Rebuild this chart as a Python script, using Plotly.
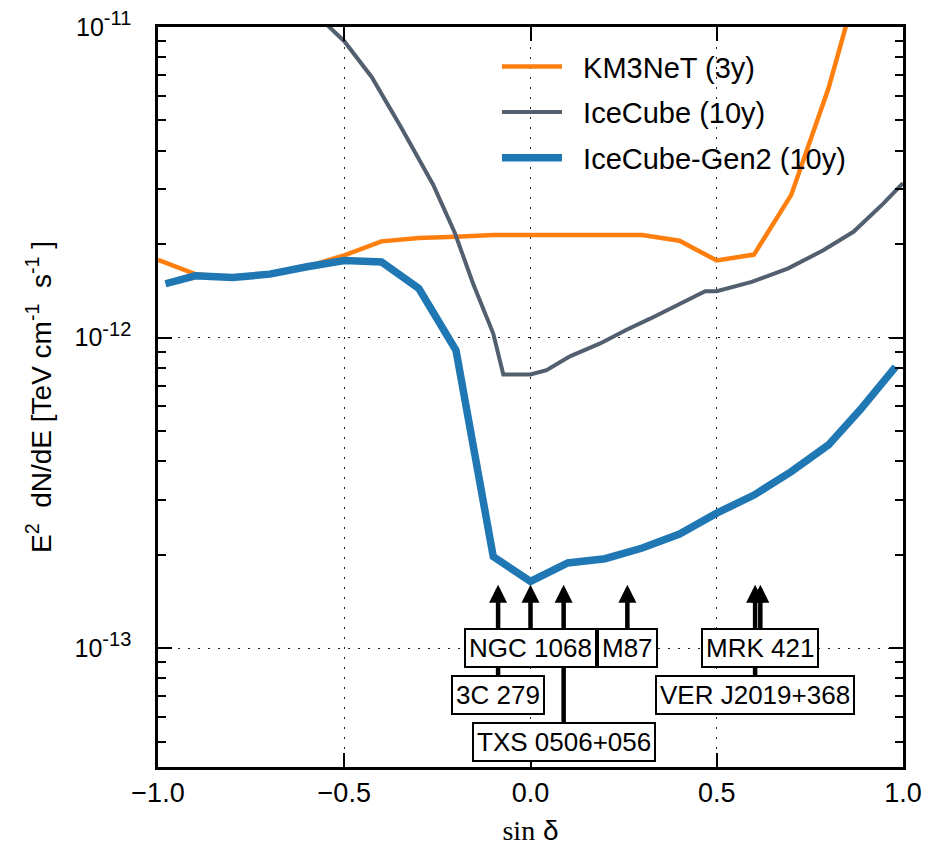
import numpy as np
import plotly.graph_objects as go

# ---------------- data ----------------
km3_x = [-1.0, -0.9, -0.8, -0.7, -0.6, -0.5, -0.4, -0.3, -0.2, -0.1, 0.0, 0.1, 0.2, 0.3, 0.4, 0.5, 0.6, 0.7, 0.8, 0.9]
km3_y = [1.78e-12, 1.60e-12, 1.56e-12, 1.60e-12, 1.69e-12, 1.84e-12, 2.04e-12, 2.09e-12, 2.11e-12, 2.14e-12,
         2.14e-12, 2.14e-12, 2.14e-12, 2.14e-12, 2.05e-12, 1.77e-12, 1.85e-12, 2.88e-12, 6.35e-12, 1.7e-11]

ic_x = [-0.6, -0.5, -0.426, -0.346, -0.261, -0.203, -0.154, -0.1, -0.073, 0.0, 0.043, 0.106, 0.187, 0.258,
        0.321, 0.393, 0.469, 0.5, 0.594, 0.692, 0.786, 0.867, 0.947, 1.0]
ic_y = [1.17e-11, 9.0e-12, 6.89e-12, 4.72e-12, 3.10e-12, 2.17e-12, 1.49e-12, 1.03e-12, 7.6e-13, 7.6e-13,
        7.85e-13, 8.7e-13, 9.57e-13, 1.06e-12, 1.15e-12, 1.27e-12, 1.41e-12, 1.41e-12, 1.51e-12, 1.67e-12,
        1.91e-12, 2.19e-12, 2.70e-12, 3.14e-12]

g2_x = [-0.98, -0.9, -0.8, -0.7, -0.6, -0.5, -0.4, -0.3, -0.2, -0.1, 0.0, 0.1, 0.2, 0.3, 0.4, 0.5, 0.6,
        0.7, 0.8, 0.885, 0.98]
g2_y = [1.49e-12, 1.58e-12, 1.56e-12, 1.60e-12, 1.69e-12, 1.77e-12, 1.75e-12, 1.44e-12, 9.1e-13, 1.97e-13,
        1.64e-13, 1.88e-13, 1.94e-13, 2.10e-13, 2.33e-13, 2.72e-13, 3.11e-13, 3.70e-13, 4.51e-13, 5.85e-13,
        8.05e-13]

series_names = ["KM3NeT (3y)", "IceCube (10y)", "IceCube-Gen2 (10y)"]

# sources (drawn in this order: later boxes cover earlier arrows)
src_names = ["3C 279", "TXS 0506+056", "VER J2019+368", "NGC 1068", "M87", "MRK 421"]
src_sindec = [-0.087, 0.089, 0.603, 0.0, 0.26, 0.617]
src_label_y = [7.08e-14, 4.97e-14, 7.08e-14, 1.0e-13, 1.0e-13, 1.0e-13]
arrow_tip_y = 1.6e-13

x_ticks = [-1.0, -0.5, 0.0, 0.5, 1.0]
y_ticks = [1e-13, 1e-12, 1e-11]
y_exponents = ["-13", "-12", "-11"]
y_minor = [m * 10.0 ** e for e in (-14, -13, -12) for m in range(2, 10)]

# ---------------- figure ----------------
SANS = "Liberation Sans, Arial, Helvetica, sans-serif"
PAD = "\u00a0\u00a0"
y_ticktext = ['10<sup><span style="font-size:20px">%s</span></sup>' % e for e in y_exponents]

fig = go.Figure()
fig.add_trace(go.Scatter(x=km3_x, y=km3_y, mode="lines", name=PAD + series_names[0],
                         line=dict(color="#ff7f0e", width=4.5), legendgroup="km3"))
fig.add_trace(go.Scatter(x=ic_x, y=ic_y, mode="lines", name=PAD + series_names[1],
                         line=dict(color="#525f6e", width=4), legendgroup="ic"))
fig.add_trace(go.Scatter(x=g2_x, y=g2_y, mode="lines", name=PAD + series_names[2],
                         line=dict(color="#1f77b4", width=7.5), legendgroup="g2"))

annotations = []
for name, sx, ly in zip(src_names, src_sindec, src_label_y):
    annotations.append(dict(
        x=sx, y=np.log10(arrow_tip_y), xref="x", yref="y",
        ax=sx, ay=np.log10(ly), axref="x", ayref="y",
        text=name, showarrow=True, arrowhead=2, arrowsize=0.8, arrowwidth=4.5,
        arrowcolor="black", standoff=0,
        font=dict(family=SANS, size=26, color="black"),
        bgcolor="white", bordercolor="black", borderwidth=2, borderpad=3,
    ))

fig.update_layout(
    width=940, height=838,
    margin=dict(l=150, r=45, t=19, b=79, autoexpand=False),
    paper_bgcolor="white", plot_bgcolor="white",
    font=dict(family=SANS, size=26, color="black"),
    showlegend=True,
    legend=dict(x=0.455, y=0.981, xanchor="left", yanchor="top",
                bgcolor="rgba(0,0,0,0)", borderwidth=0,
                font=dict(family=SANS, size=29, color="black"),
                itemwidth=60, tracegroupgap=5),
    annotations=annotations,
)

grid_common = dict(showgrid=True, gridcolor="#222222", gridwidth=1.4, griddash="2px,8px",
                   showline=True, linecolor="black", linewidth=2.5, mirror="allticks",
                   ticks="inside", ticklen=14, tickwidth=1.5, tickcolor="black",
                   zeroline=False, automargin=False, ticklabeloverflow="allow")

fig.update_xaxes(range=[-1, 1], tickvals=x_ticks, tickformat=".1f",
                 tickfont=dict(family=SANS, size=27),
                 title=dict(text='<span style="font-family:Liberation Serif">sin</span> δ',
                            font=dict(family=SANS, size=28)),
                 **grid_common)
fig.update_yaxes(type="log", range=[np.log10(4.14e-14), -11], tickvals=y_ticks, ticktext=y_ticktext,
                 tickfont=dict(family=SANS, size=25), ticklabelstandoff=19,
                 minor=dict(tickvals=y_minor, ticks="inside", ticklen=8, tickwidth=1.5,
                            tickcolor="black", showgrid=False),
                 title=dict(text="E<sup>2</sup>  dN/dE [TeV cm<sup>-1</sup>  s<sup>-1</sup> ]",
                            font=dict(family=SANS, size=28)),
                 **grid_common)

fig.write_html("out.html")
